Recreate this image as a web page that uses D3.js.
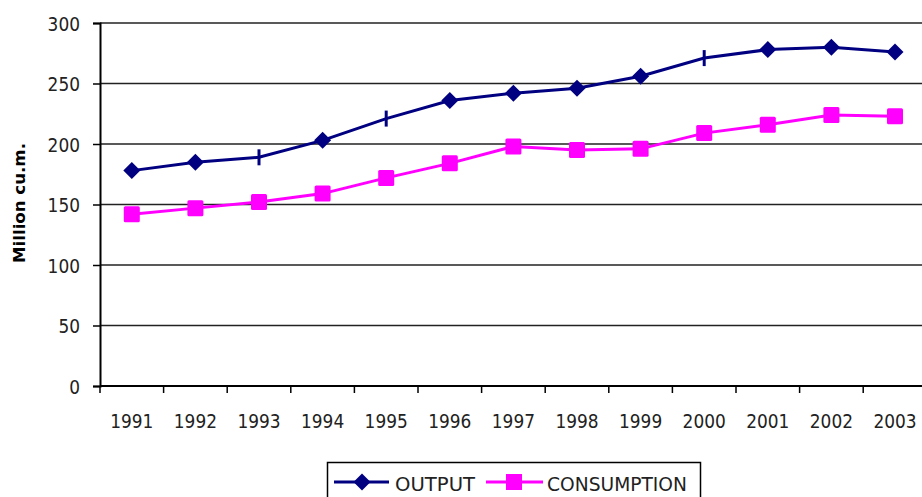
<!DOCTYPE html>
<html>
<head>
<meta charset="utf-8">
<script src="https://cdn.jsdelivr.net/npm/d3@7"></script>
<style>
  body { margin: 0; background: #fff; }
  svg { display: block; }
</style>
</head>
<body>
<div id="chart"></div>
<script>
// data
const years = ["1991", "1992", "1993", "1994", "1995", "1996", "1997", "1998", "1999", "2000", "2001", "2002", "2003"];
const output = [178, 185, 189, 203, 221, 236, 242, 246, 256, 271, 278, 280, 276];
const consumption = [142, 147, 152, 159, 172, 184, 198, 195, 196, 209, 216, 224, 223];
// points where the output marker shows as a plain dash
const dashYears = ["1993", "1995", "2000"];
const yTicks = [0, 50, 100, 150, 200, 250, 300];

const width = 922, height = 497;
const plotLeft = 100, plotTop = 23, plotBottom = 386;
const bandW = 63.6;

const svg = d3.select('#chart').append('svg')
  .attr('width', width)
  .attr('height', height);

let x = d3.scaleBand()
  .domain(years)
  .range([plotLeft, plotLeft + bandW * years.length]);

let y = d3.scaleLinear()
  .domain([0, 300])
  .range([plotBottom, plotTop]);

const font = '"DejaVu Sans", Verdana, sans-serif';
const digitW = 10.8;

// gridlines
svg.append('g')
  .selectAll('line')
  .data(yTicks.filter(d => d > 0))
  .enter().append('line')
  .attr('x1', plotLeft).attr('x2', width)
  .attr('y1', d => y(d)).attr('y2', d => y(d))
  .attr('stroke', '#222')
  .attr('stroke-width', 1.5);

// y axis
let yAxis = svg.append('g')
  .attr('transform', 'translate(' + plotLeft + ',0)')
  .call(d3.axisLeft(y).tickValues(yTicks).tickSize(7).tickPadding(0));
yAxis.select('.domain').attr('stroke', '#000').attr('stroke-width', 2);
yAxis.selectAll('.tick line').attr('stroke', '#000').attr('stroke-width', 1.5);
yAxis.selectAll('text')
  .attr('x', -20)
  .attr('dy', '0.36em')
  .attr('textLength', d => String(d).length * digitW)
  .attr('lengthAdjust', 'spacingAndGlyphs')
  .style('font-family', font)
  .style('font-size', '20px')
  .attr('fill', '#222');

// x axis, ticks between the categories
let xAxis = svg.append('g')
  .attr('transform', 'translate(0,' + plotBottom + ')');
xAxis.append('line')
  .attr('x1', plotLeft).attr('x2', width)
  .attr('stroke', '#000').attr('stroke-width', 2);
xAxis.selectAll('.tk')
  .data(years)
  .enter().append('line')
  .attr('class', 'tk')
  .attr('x1', d => x(d)).attr('x2', d => x(d))
  .attr('y1', 0).attr('y2', 7)
  .attr('stroke', '#000').attr('stroke-width', 1.5);
xAxis.selectAll('text')
  .data(years)
  .enter().append('text')
  .attr('x', d => x(d) + x.bandwidth() / 2)
  .attr('y', 42)
  .attr('text-anchor', 'middle')
  .attr('textLength', 4 * digitW)
  .attr('lengthAdjust', 'spacingAndGlyphs')
  .style('font-family', font)
  .style('font-size', '20px')
  .attr('fill', '#222')
  .text(d => d);

// y title
svg.append('text')
  .attr('transform', 'translate(25,' + 203 + ') rotate(-90)')
  .attr('text-anchor', 'middle')
  .attr('textLength', 120)
  .attr('lengthAdjust', 'spacingAndGlyphs')
  .style('font-family', font)
  .style('font-size', '16px')
  .style('font-weight', 'bold')
  .text('Million cu.m.');

const cx = d => x(d) + x.bandwidth() / 2;
let line = d3.line()
  .x(d => cx(d.year))
  .y(d => y(d.v));

const outData = years.map((yr, i) => ({year: yr, v: output[i]}));
const conData = years.map((yr, i) => ({year: yr, v: consumption[i]}));
const diamond = 'M0,-8.5L8.5,0L0,8.5L-8.5,0Z';

// consumption
svg.append('path')
  .datum(conData)
  .attr('d', line)
  .attr('fill', 'none')
  .attr('stroke', '#ff00ff')
  .attr('stroke-width', 3);
svg.selectAll('.sq')
  .data(conData)
  .enter().append('rect')
  .attr('class', 'sq')
  .attr('x', d => cx(d.year) - 8)
  .attr('y', d => y(d.v) - 8)
  .attr('width', 16).attr('height', 16)
  .attr('rx', 1.5)
  .attr('fill', '#ff00ff');

// output
svg.append('path')
  .datum(outData)
  .attr('d', line)
  .attr('fill', 'none')
  .attr('stroke', '#000080')
  .attr('stroke-width', 3);
svg.selectAll('.dm')
  .data(outData.filter(d => dashYears.indexOf(d.year) < 0))
  .enter().append('path')
  .attr('class', 'dm')
  .attr('transform', d => 'translate(' + cx(d.year) + ',' + y(d.v) + ')')
  .attr('d', diamond)
  .attr('fill', '#000080');
svg.selectAll('.dash')
  .data(outData.filter(d => dashYears.indexOf(d.year) >= 0))
  .enter().append('line')
  .attr('class', 'dash')
  .attr('x1', d => cx(d.year)).attr('x2', d => cx(d.year))
  .attr('y1', d => y(d.v) - 8).attr('y2', d => y(d.v) + 8)
  .attr('stroke', '#000080')
  .attr('stroke-width', 3);

// legend
let legend = svg.append('g');
legend.append('rect')
  .attr('x', 327.5).attr('y', 462.5)
  .attr('width', 373).attr('height', 40)
  .attr('fill', '#fff')
  .attr('stroke', '#000')
  .attr('stroke-width', 1.5);
const ly = 482;
legend.append('line')
  .attr('x1', 334).attr('x2', 389).attr('y1', ly).attr('y2', ly)
  .attr('stroke', '#000080').attr('stroke-width', 3);
legend.append('path')
  .attr('transform', 'translate(362,' + ly + ')')
  .attr('d', diamond)
  .attr('fill', '#000080');
legend.append('text')
  .attr('x', 395).attr('y', 491)
  .attr('textLength', 80)
  .attr('lengthAdjust', 'spacingAndGlyphs')
  .style('font-family', font).style('font-size', '19.5px')
  .attr('fill', '#222')
  .text('OUTPUT');
legend.append('line')
  .attr('x1', 486).attr('x2', 543).attr('y1', ly).attr('y2', ly)
  .attr('stroke', '#ff00ff').attr('stroke-width', 3);
legend.append('rect')
  .attr('x', 506).attr('y', ly - 8)
  .attr('width', 16).attr('height', 16)
  .attr('fill', '#ff00ff');
legend.append('text')
  .attr('x', 547).attr('y', 491)
  .attr('textLength', 140)
  .attr('lengthAdjust', 'spacingAndGlyphs')
  .style('font-family', font).style('font-size', '19.5px')
  .attr('fill', '#222')
  .text('CONSUMPTION');
</script>
</body>
</html>
